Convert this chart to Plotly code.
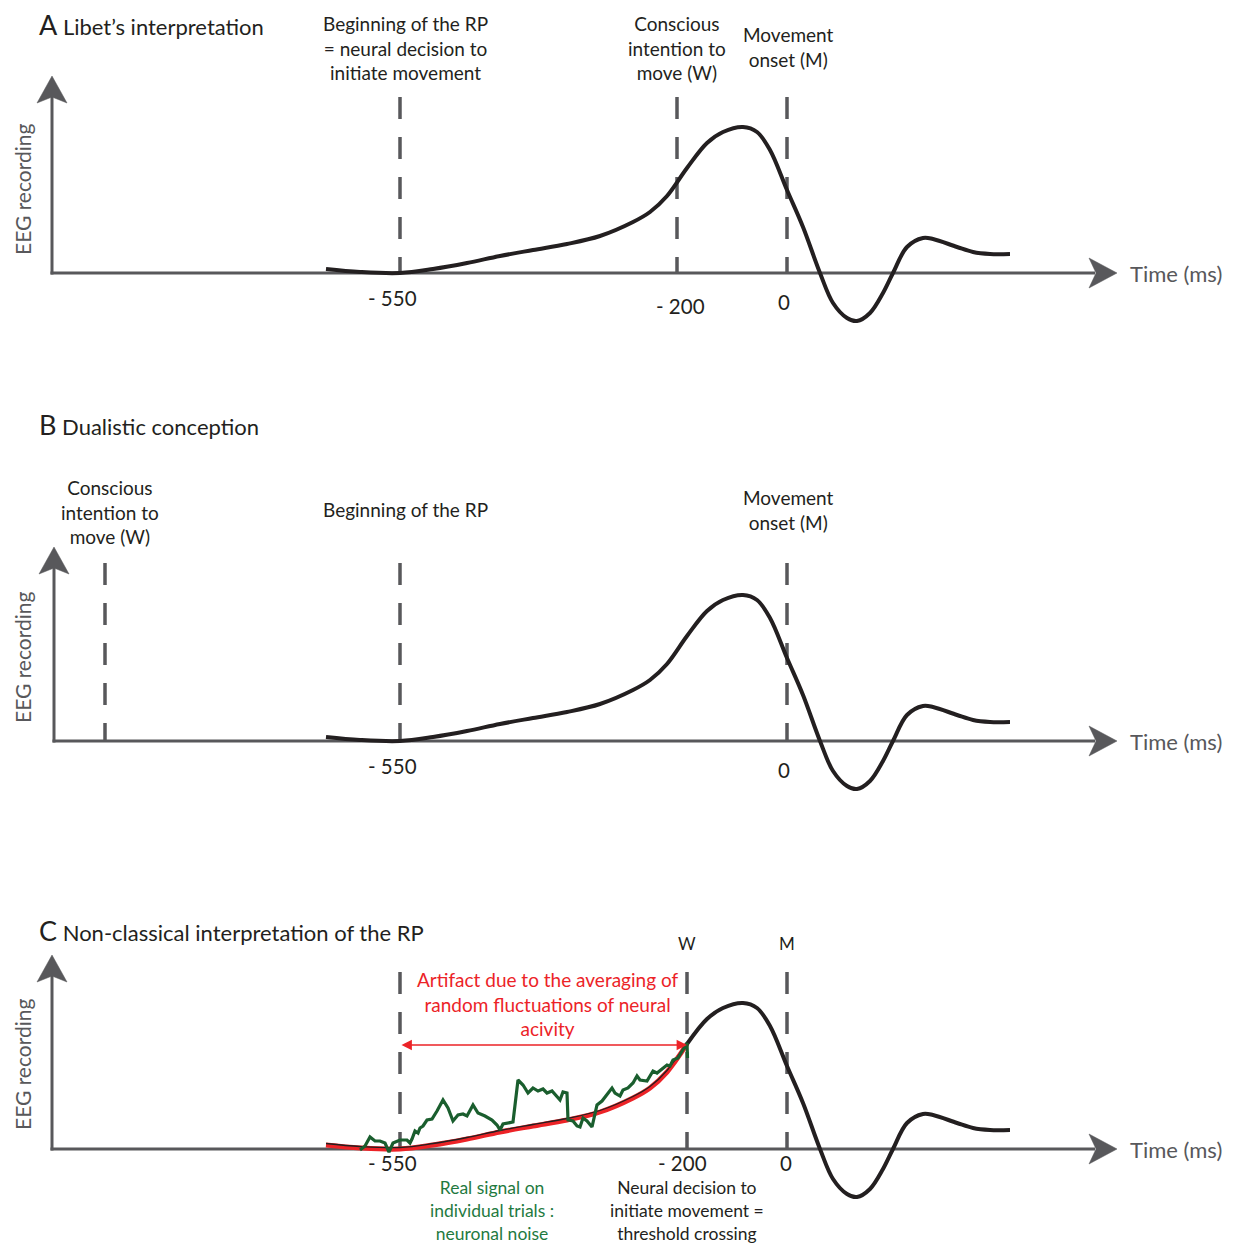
import plotly.graph_objects as go

W, H = 1234, 1254
PAGE_OFFSET = 8  # default body margin of the html page
FONT = "Lato"
INK = "#231f20"
GREY = "#58585b"
RED = "#ec2327"
GREEN_LINE = "#1a5e2e"
GREEN_TEXT = "#1f7a3f"

# ---- data (schematic readiness-potential waveform shared by the three panels) ----
# horizontal position along the drawn time axis, amplitude above the baseline
rp_x = [326, 360, 400, 433, 467, 500, 533, 567, 600, 633, 650, 667, 687, 707, 723,
        743, 757, 770, 787, 803, 820, 833, 847, 857, 870, 883, 893, 907, 923, 933,
        957, 973, 990, 1010]
rp_amp = [4, 1, 0, 4, 10, 17, 23, 29, 37, 51, 61, 77, 105, 130, 141,
          146, 141, 123, 83, 46, 0, -30, -45, -48, -40, -20, 0, 26, 35, 34,
          26, 21, 19, 19]

# single-trial noisy signal (panel C)
green_x = [360, 365, 370, 375, 380, 385, 389, 393, 400, 407, 410, 412, 415, 418, 420,
           423, 427, 432, 437, 443, 448, 453, 458, 463, 467, 473, 478, 485, 492, 497,
           500, 503, 513, 518, 523, 528, 533, 538, 543, 547, 552, 557, 560, 563, 567,
           568, 573, 577, 580, 583, 587, 592, 595, 597, 602, 607, 612, 615, 620, 623,
           628, 633, 637, 640, 647, 650, 653, 657, 663, 667, 670, 673, 678, 683, 687, 687.5]
green_amp = [-1, 3, 12, 8, 8, 6, -3, 6, 9, 9, 6, 10, 18, 16, 21,
             23, 29, 30, 38, 49, 41, 28, 34, 35, 33, 44, 36, 33, 29, 24,
             19, 25, 27, 69, 64, 56, 61, 58, 60, 56, 58, 53, 49, 57, 56,
             29, 28, 23, 22, 31, 28, 22, 34, 44, 48, 54, 61, 56, 53, 59,
             61, 66, 73, 69, 68, 73, 78, 76, 81, 84, 83, 89, 91, 99, 106, 91]

panels = ["A", "B", "C"]
panel_titles = ["Libet’s interpretation", "Dualistic conception",
                "Non-classical interpretation of the RP"]
panel_title_y = [24, 424, 930]
baseline_y = [273, 741, 1149]
vaxis_x = [52, 54, 52]
vaxis_tip_y = [76, 547, 955]
eeg_label_y = [190, 658, 1065]
haxis_tip_x = 1117

dash_x = [[400, 677, 787], [105, 400, 787], [400, 687, 787]]
dash_top = [97, 563, 972]

tick_text = [["- 550", "- 200", "0"], ["- 550", "0"], ["- 550", "- 200", "0"]]
tick_x = [[392, 680, 784], [392, 784], [392, 682, 786]]
tick_y = [[298, 306, 302], [766, 770], [1163, 1163, 1163]]

# marker labels: text, center x, center y
marker_labels = [
    ("Beginning of the RP<br>= neural decision to<br>initiate movement", 405, 48, INK, 19),
    ("Conscious<br>intention to<br>move (W)", 677, 48, INK, 19),
    ("Movement<br>onset (M)", 788, 47, INK, 19),
    ("Conscious<br>intention to<br>move (W)", 110, 512, INK, 19),
    ("Beginning of the RP", 405, 509, INK, 19),
    ("Movement<br>onset (M)", 788, 510, INK, 19),
    ("W", 687, 943, INK, 17),
    ("M", 787, 943, INK, 17),
    ("Artifact due to the averaging of<br>random fluctuations of neural<br>acivity", 547, 1004, RED, 19),
    ("Real signal on<br>individual trials :<br>neuronal noise", 492, 1210, GREEN_TEXT, 17.5),
    ("Neural decision to<br>initiate movement =<br>threshold crossing", 687, 1210, INK, 17.5),
]
artifact_arrow_x = [400, 687]
artifact_arrow_y = 1045

fig = go.Figure()


def line(xs, ys, color, width, dash=None, shape="linear"):
    fig.add_trace(go.Scatter(x=xs, y=ys, mode="lines",
                             line=dict(color=color, width=width, dash=dash, shape=shape,
                                       smoothing=1.0 if shape == "spline" else None),
                             hoverinfo="skip", showlegend=False))


def tri(xs, ys, color):
    fig.add_trace(go.Scatter(x=xs, y=ys, mode="lines", fill="toself", fillcolor=color,
                             line=dict(color=color, width=0.5),
                             hoverinfo="skip", showlegend=False))


for i in range(3):
    b = baseline_y[i]
    ax = vaxis_x[i]
    tip = vaxis_tip_y[i]
    # dashed markers
    for dx in dash_x[i]:
        line([dx, dx], [dash_top[i], b], GREY, 3.5, dash="22px,18px")
    # axes
    line([ax, ax], [b + 1.5, tip + 20], GREY, 3)
    tri([ax, ax - 15, ax, ax + 15, ax], [tip, tip + 27, tip + 21, tip + 27, tip], GREY)
    line([ax - 1.5, haxis_tip_x - 22], [b, b], GREY, 3)
    tri([haxis_tip_x, haxis_tip_x - 28, haxis_tip_x - 21, haxis_tip_x - 28, haxis_tip_x],
        [b, b - 15, b, b + 15, b], GREY)

    wy = [b - a for a in rp_amp]
    if i < 2:
        line(rp_x, wy, INK, 4, shape="spline")
    else:
        k = rp_x.index(687)
        line(rp_x[:k + 1], wy[:k + 1], RED, 5, shape="spline")
        line(rp_x[:k + 1], [y - 1.5 for y in wy[:k + 1]], INK, 1.3, shape="spline")
        line(rp_x[k:], wy[k:], INK, 4, shape="spline")
        line(green_x, [b - a for a in green_amp], GREEN_LINE, 3.2)

    # titles & axis labels
    fig.add_annotation(x=37, y=panel_title_y[i], xanchor="left", yanchor="middle",
                       text=f"<span style='font-size:27px'>{panels[i]}</span> {panel_titles[i]}",
                       font=dict(family=FONT, size=22, color=INK), showarrow=False)
    fig.add_annotation(x=22, y=eeg_label_y[i], text="EEG recording", textangle=-90,
                       font=dict(family=FONT, size=21, color=GREY), showarrow=False)
    fig.add_annotation(x=1176, y=b, text="Time (ms)",
                       font=dict(family=FONT, size=22, color=GREY), showarrow=False)
    for t, tx, ty in zip(tick_text[i], tick_x[i], tick_y[i]):
        fig.add_annotation(x=tx, y=ty, text=t, font=dict(family=FONT, size=20.5, color=INK),
                           showarrow=False)

for text, cx, cy, col, sz in marker_labels:
    fig.add_annotation(x=cx, y=cy, text=text, font=dict(family=FONT, size=sz, color=col),
                       showarrow=False, align="center")

# red double-headed arrow
fig.add_annotation(x=artifact_arrow_x[1], y=artifact_arrow_y,
                   ax=artifact_arrow_x[0], ay=artifact_arrow_y,
                   xref="x", yref="y", axref="x", ayref="y", text="",
                   showarrow=True, arrowhead=2, startarrowhead=2, arrowside="end+start",
                   arrowwidth=1.6, arrowsize=1.3, startarrowsize=1.3, arrowcolor=RED)

fw, fh = W - 2 * PAGE_OFFSET, H - 2 * PAGE_OFFSET
fig.update_xaxes(range=[PAGE_OFFSET, PAGE_OFFSET + fw], visible=False, fixedrange=True)
fig.update_yaxes(range=[PAGE_OFFSET + fh, PAGE_OFFSET], visible=False, fixedrange=True)
fig.update_layout(width=fw, height=fh, margin=dict(l=0, r=0, t=0, b=0),
                  plot_bgcolor="white", paper_bgcolor="white", showlegend=False)

fig.write_html("out.html")
